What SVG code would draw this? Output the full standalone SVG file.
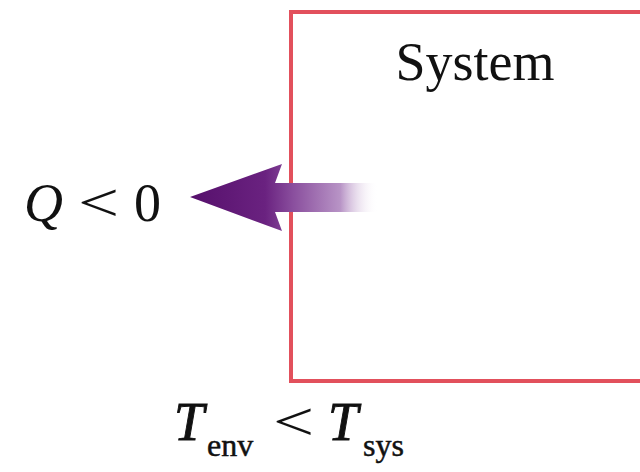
<svg xmlns="http://www.w3.org/2000/svg" width="640" height="472" viewBox="0 0 640 472">
<style>
text{font-family:"Liberation Serif","Times New Roman",serif;fill:#111}
.it{font-style:italic}
.b{stroke:#111;stroke-width:0.9}
</style>
<defs>
<linearGradient id="g" x1="190" y1="0" x2="378" y2="0" gradientUnits="userSpaceOnUse">
<stop offset="0" stop-color="#56106c"/>
<stop offset="0.4" stop-color="#6a2280"/>
<stop offset="0.55" stop-color="#8a4f9e"/>
<stop offset="0.8" stop-color="#b894c6"/>
<stop offset="1" stop-color="#ffffff" stop-opacity="0"/>
</linearGradient>
</defs>
<rect width="640" height="472" fill="#fff"/>
<g id="system">
<rect x="291" y="12" width="360" height="369" fill="none" stroke="#e2505c" stroke-width="4"/>
<text x="475" y="80" font-size="54" text-anchor="middle">System</text>
</g>
<g id="connectors">
<path d="M190,197 L282,164 L275,183 L378,183 L378,212 L275,212 L282,231 Z" fill="url(#g)"/>
</g>
<g id="q">
<text x="24" y="221" font-size="54" class="it">Q</text>
<text transform="translate(78 221) scale(1.35 1)" font-size="54">&lt;</text>
<text x="134" y="221" font-size="54">0</text>
</g>
<g id="temp">
<text x="174" y="440" font-size="54" class="it b">T</text>
<text x="207" y="456" font-size="32" class="b" style="stroke-width:0.5">env</text>
<text transform="translate(273 440) scale(1.35 1)" font-size="54">&lt;</text>
<text x="328" y="440" font-size="54" class="it b">T</text>
<text x="363" y="456" font-size="32" class="b" style="stroke-width:0.5">sys</text>
</g>
</svg>
